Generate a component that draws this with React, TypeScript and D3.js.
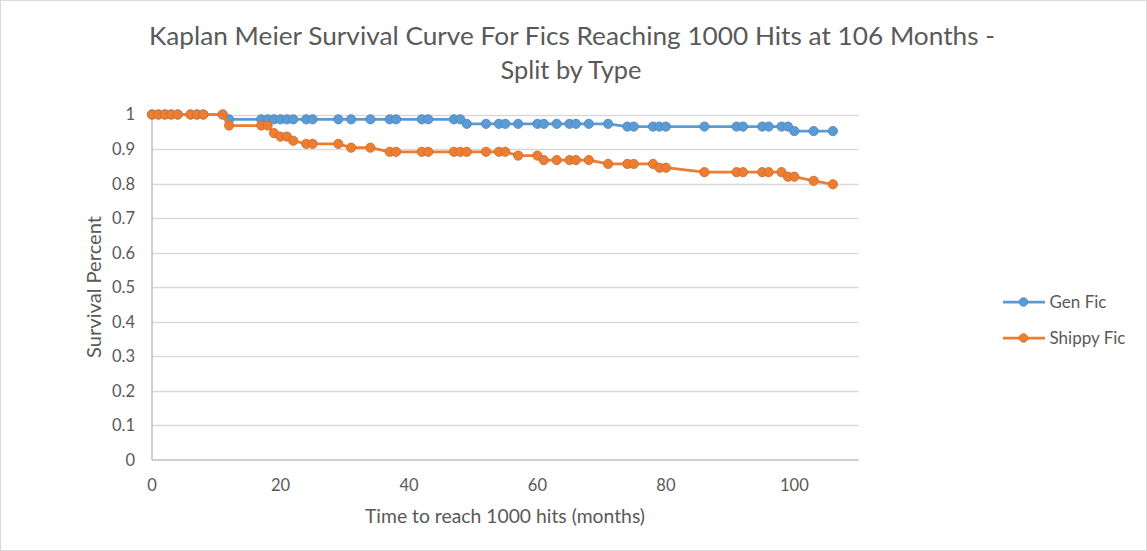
import { useEffect, useRef } from "react"
import * as d3 from "d3"

// time axis shared by both series (months)
const months = [
  0, 1, 2, 3, 4, 6, 7, 8, 11, 12, 17, 18, 19, 20, 21, 22, 24, 25, 29, 31, 34,
  37, 38, 42, 43, 47, 48, 49, 52, 54, 55, 57, 60, 61, 63, 65, 66, 68, 71, 74,
  75, 78, 79, 80, 86, 91, 92, 95, 96, 98, 99, 100, 103, 106,
]

const genFic = [
  1, 1, 1, 1, 1, 1, 1, 1, 1,
  0.986, 0.986, 0.986, 0.986, 0.986, 0.986, 0.986, 0.986, 0.986, 0.986, 0.986,
  0.986, 0.986, 0.986, 0.986, 0.986, 0.986, 0.986,
  0.973, 0.973, 0.973, 0.973, 0.973, 0.973, 0.973, 0.973, 0.973, 0.973, 0.973,
  0.973,
  0.965, 0.965, 0.965, 0.965, 0.965, 0.965, 0.965, 0.965, 0.965, 0.965, 0.965,
  0.965,
  0.952, 0.952, 0.952,
]

const shippyFic = [
  1, 1, 1, 1, 1, 1, 1, 1, 1,
  0.968, 0.968, 0.968,
  0.946,
  0.936, 0.936,
  0.924,
  0.915, 0.915, 0.915,
  0.904, 0.904,
  0.892, 0.892, 0.892, 0.892, 0.892, 0.892, 0.892, 0.892, 0.892, 0.892,
  0.881, 0.881,
  0.868, 0.868, 0.868, 0.868, 0.868,
  0.857, 0.857, 0.857, 0.857,
  0.846, 0.846,
  0.833, 0.833, 0.833, 0.833, 0.833, 0.833,
  0.82, 0.82,
  0.808,
  0.798,
]

const seriesNames = ["Gen Fic", "Shippy Fic"]
const seriesColors = ["#5b9bd5", "#ed7d31"]
const xTicks = [0, 20, 40, 60, 80, 100]
const yTicks = [0, 0.1, 0.2, 0.3, 0.4, 0.5, 0.6, 0.7, 0.8, 0.9, 1]

const W = 1147
const H = 551
const FONT = "Lato, 'Open Sans', sans-serif"
const TEXT = "#595959"

const App = () => {
  const ref = useRef<SVGSVGElement>(null)

  useEffect(() => {
    if (!ref.current) return
    const svg = d3.select(ref.current)
    svg.selectAll("*").remove()

    const x = d3.scaleLinear().domain([0, 110]).range([152, 858.6])
    const y = d3.scaleLinear().domain([0, 1]).range([460, 114.5])

    svg
      .append("rect")
      .attr("x", 0.5)
      .attr("y", 0.5)
      .attr("width", W - 1)
      .attr("height", H - 1)
      .attr("fill", "#fff")
      .attr("stroke", "#d9d9d9")

    // gridlines
    svg
      .append("g")
      .selectAll("line")
      .data(yTicks.filter((d) => d > 0))
      .join("line")
      .attr("x1", x(0))
      .attr("x2", x(110))
      .attr("y1", (d) => Math.round(y(d)) + 0.5)
      .attr("y2", (d) => Math.round(y(d)) + 0.5)
      .attr("stroke", "#d9d9d9")
      .attr("stroke-width", 1.3)

    // axes lines
    svg
      .append("line")
      .attr("x1", x(0))
      .attr("x2", x(110))
      .attr("y1", y(0))
      .attr("y2", y(0))
      .attr("stroke", "#bfbfbf")
      .attr("stroke-width", 1.5)
    svg
      .append("line")
      .attr("x1", x(0))
      .attr("x2", x(0))
      .attr("y1", y(0))
      .attr("y2", y(1))
      .attr("stroke", "#bfbfbf")
      .attr("stroke-width", 1.5)

    // tick labels
    svg
      .append("g")
      .selectAll("text")
      .data(yTicks)
      .join("text")
      .attr("x", 135)
      .attr("y", (d) => y(d))
      .attr("dy", "0.36em")
      .attr("text-anchor", "end")
      .attr("font-family", FONT)
      .attr("font-size", 16.5)
      .attr("fill", TEXT)
      .text((d) => d3.format("~g")(d))

    svg
      .append("g")
      .selectAll("text")
      .data(xTicks)
      .join("text")
      .attr("x", (d) => x(d))
      .attr("y", 491)
      .attr("text-anchor", "middle")
      .attr("font-family", FONT)
      .attr("font-size", 16.5)
      .attr("fill", TEXT)
      .text((d) => String(d))

    // axis titles
    svg
      .append("text")
      .attr("x", 505)
      .attr("y", 523)
      .attr("text-anchor", "middle")
      .attr("font-family", FONT)
      .attr("font-size", 18.5)
      .attr("textLength", 280)
      .attr("lengthAdjust", "spacingAndGlyphs")
      .attr("fill", TEXT)
      .text("Time to reach 1000 hits (months)")

    svg
      .append("text")
      .attr("transform", `translate(101,287) rotate(-90)`)
      .attr("text-anchor", "middle")
      .attr("font-family", FONT)
      .attr("font-size", 18.5)
      .attr("textLength", 142)
      .attr("lengthAdjust", "spacingAndGlyphs")
      .attr("fill", TEXT)
      .text("Survival Percent")

    // title
    const title = svg
      .append("text")
      .attr("font-family", FONT)
      .attr("font-size", 25)
      .attr("fill", TEXT)
      .attr("text-anchor", "middle")
    title
      .append("tspan")
      .attr("x", 572)
      .attr("y", 45)
      .attr("textLength", 846)
      .attr("lengthAdjust", "spacingAndGlyphs")
      .text("Kaplan Meier Survival Curve For Fics Reaching 1000 Hits at 106 Months -")
    title
      .append("tspan")
      .attr("x", 571)
      .attr("y", 79)
      .attr("textLength", 141)
      .attr("lengthAdjust", "spacingAndGlyphs")
      .text("Split by Type")

    // series
    const allSeries = [genFic, shippyFic]
    const line = d3
      .line<number>()
      .x((_, i) => x(months[i]))
      .y((d) => y(d))

    allSeries.forEach((vals, si) => {
      const c = seriesColors[si]
      const g = svg.append("g")
      g.append("path")
        .datum(vals)
        .attr("d", line)
        .attr("fill", "none")
        .attr("stroke", c)
        .attr("stroke-width", 2.75)
        .attr("stroke-linejoin", "round")
      g.selectAll("circle")
        .data(vals)
        .join("circle")
        .attr("cx", (_, i) => x(months[i]))
        .attr("cy", (d) => y(d))
        .attr("r", 4.6)
        .attr("fill", c)
        .attr("stroke", d3.color(c)!.darker(0.35).toString())
        .attr("stroke-width", 0.9)
    })

    // legend
    const legend = svg
      .append("g")
      .selectAll("g")
      .data(seriesNames)
      .join("g")
      .attr("transform", (_, i) => `translate(1003,${302 + i * 36})`)
    legend
      .append("line")
      .attr("x1", 0)
      .attr("x2", 42)
      .attr("stroke", (_, i) => seriesColors[i])
      .attr("stroke-width", 2.75)
    legend
      .append("circle")
      .attr("cx", 20.5)
      .attr("r", 4.2)
      .attr("fill", (_, i) => seriesColors[i])
      .attr("stroke", (_, i) => d3.color(seriesColors[i])!.darker(0.35).toString())
      .attr("stroke-width", 0.9)
    legend
      .append("text")
      .attr("x", 46.5)
      .attr("dy", "0.36em")
      .attr("font-family", FONT)
      .attr("font-size", 17)
      .attr("fill", TEXT)
      .text((d) => d)
  }, [])

  return (
    <svg
      ref={ref}
      width={W}
      height={H}
      style={{ position: "absolute", left: 0, top: 0 }}
    />
  )
}

export default App
